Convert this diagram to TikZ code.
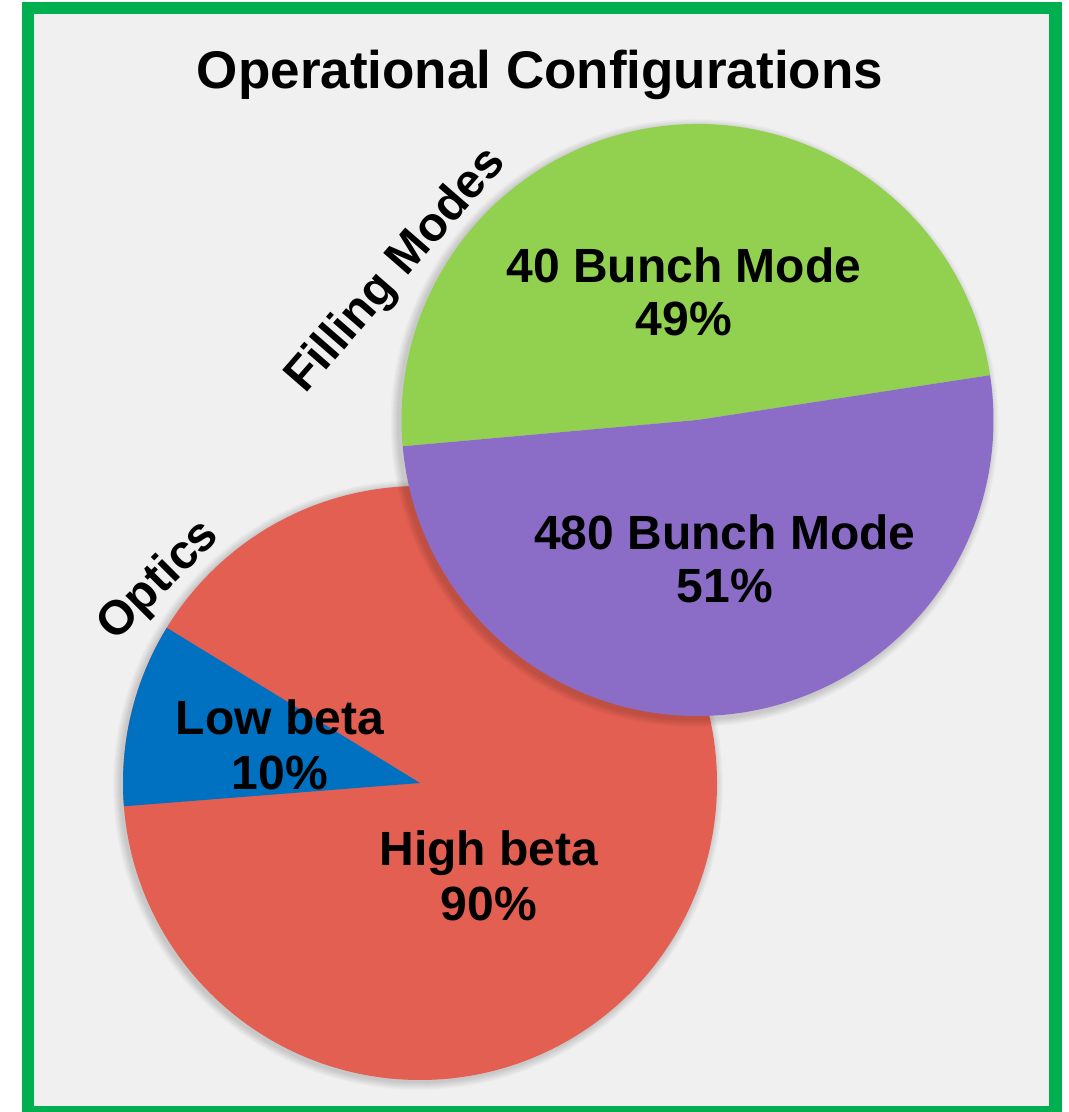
\documentclass[tikz,border=0pt]{standalone}
\usepackage{fontspec}
\setmainfont{Liberation Sans}
\usepackage{xcolor}
\usetikzlibrary{calc}

\definecolor{framegreen}{HTML}{00B050}
\definecolor{panelgray}{HTML}{F0F0F0}
\definecolor{bunchgreen}{HTML}{92D050}
\definecolor{bunchpurple}{HTML}{8B6DC8}
\definecolor{highred}{HTML}{E35F52}
\definecolor{lowblue}{HTML}{0070C0}

\tikzset{
  titletext/.style={font=\fontsize{53}{60}\selectfont\bfseries, inner sep=0pt, anchor=base},
  slicetext/.style={font=\fontsize{48}{53}\selectfont\bfseries, inner sep=0pt, anchor=base},
}

\begin{document}
\begin{tikzpicture}[x=1pt,y=1pt]%,line cap=round]
\useasboundingbox (0,0) rectangle (1069,1112);
\draw[framegreen, line width=12.5pt, fill=panelgray] (28,0) rectangle (1055.5,1104);

\node[titletext] (title) at (540,1023) {Operational Configurations};

% optics
\coordinate (O) at (420,329);
\foreach \i in {1,...,8}
  \fill[black, opacity=0.02] ($(O)+(-2,-2)$) circle ({297+\i});
\fill[highred] (O) circle (297);
\fill[lowblue] (O) -- ++(148.5:297) arc (148.5:184.5:297) -- cycle;
\node[slicetext, rotate=45] (optics) at (168,522) {Optics};
\node[slicetext] (low) at (280,377) {Low beta};
\node[slicetext] (lowp) at (280,322) {10\%};
\node[slicetext] (high) at (489,246) {High beta};
\node[slicetext] (highp) at (489,191) {90\%};

% filling modes
\coordinate (F) at (697.5,692);
\foreach \i in {1,...,8}
  \fill[black, opacity=0.02] ($(F)+(-3,-3)$) circle ({296+\i});
\fill[bunchgreen] (F) -- ++(8.7:296) arc (8.7:185.1:296) -- cycle;
\fill[bunchpurple] (F) -- ++(185.1:296) arc (185.1:368.7:296) -- cycle;
\node[slicetext, rotate=49] (filling) at (406,833) {Filling Modes};
\node[slicetext] (forty) at (684,829) {40 Bunch Mode};
\node[slicetext] (fortyp) at (684,776) {49\%};
\node[slicetext] (four80) at (725,562) {480 Bunch Mode};
\node[slicetext] (four80p) at (725,509) {51\%};
\end{tikzpicture}
\end{document}
